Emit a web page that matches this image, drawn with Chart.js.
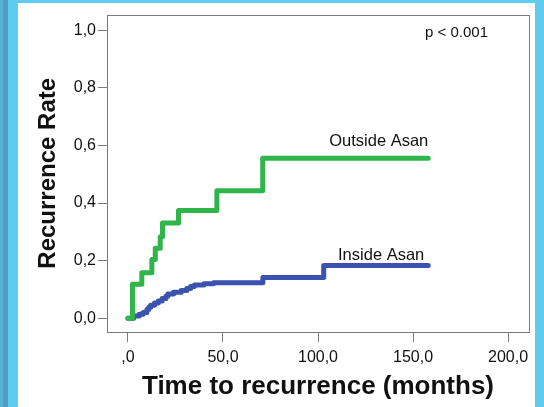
<!DOCTYPE html>
<html>
<head>
<meta charset="utf-8">
<script src="https://cdn.jsdelivr.net/npm/chart.js@4/dist/chart.umd.min.js"></script>
<style>
  html, body { margin: 0; padding: 0; }
  body { width: 544px; height: 407px; background: #5ecbef; position: relative; overflow: hidden; }
  #edge1 { position: absolute; left: 0; top: 0; width: 3px; height: 407px; background: #56b2d6; }
  #edge2 { position: absolute; left: 3px; top: 0; width: 5px; height: 407px; background: #4a9fc3; }
  #panel { position: absolute; left: 18px; top: 3px; width: 517px; height: 404px; background: #fff; }
  canvas { display: block; }
</style>
</head>
<body>
<div id="edge1"></div>
<div id="edge2"></div>
<div id="panel"><canvas id="km" width="517" height="404"></canvas></div>
<script>
// cumulative recurrence (Kaplan-Meier style), months vs rate
var outsideMonths = [0, 2.4, 7.3, 12.6, 14.4, 17, 18.2, 26.6, 46.8, 70.9, 158];
var outsideRate   = [0, 0.118, 0.158, 0.204, 0.243, 0.283, 0.331, 0.374, 0.443, 0.556, 0.556];

var insideMonths = [0, 3, 6, 8, 10, 11, 12, 14, 16, 18, 20, 21, 24, 28, 31, 33, 35, 40, 45, 71, 103, 158];
var insideRate   = [0, 0.008, 0.014, 0.02, 0.03, 0.038, 0.045, 0.053, 0.06, 0.068, 0.076, 0.084, 0.09, 0.096, 0.103, 0.11, 0.115, 0.12, 0.123, 0.141, 0.183, 0.183];

var xTicks  = [0, 50, 100, 150, 200];
var xLabels = [',0', '50,0', '100,0', '150,0', '200,0'];
var yTicks  = [0, 0.2, 0.4, 0.6, 0.8, 1.0];
var yLabels = ['0,0', '0,2', '0,4', '0,6', '0,8', '1,0'];

var groupNames = ['Outside Asan', 'Inside Asan'];
var pText = 'p < 0.001';

function toPoints(xs, ys) {
    return xs.map(function (x, i) { return { x: x, y: ys[i] }; });
}

Chart.defaults.font.family = "'Liberation Sans', Arial, sans-serif";
Chart.defaults.color = '#111';

// box round the plot area, group names at the end of each curve, p value
var extras = {
    id: 'extras',
    beforeDatasetsDraw: function (chart) {
        var a = chart.chartArea, ctx = chart.ctx;
        ctx.save();
        ctx.strokeStyle = '#7a7a7a';
        ctx.lineWidth = 1;
        ctx.strokeRect(Math.round(a.left) + 0.5, Math.round(a.top) + 0.5,
            Math.round(a.right - a.left), Math.round(a.bottom - a.top));
        ctx.restore();
    },
    afterDatasetsDraw: function (chart) {
        var ctx = chart.ctx, xs = chart.scales.x, ys = chart.scales.y;
        var offs = [[0, -12], [-4, -6]];
        ctx.save();
        ctx.fillStyle = '#111';
        ctx.font = "16.5px 'Liberation Sans', Arial, sans-serif";
        ctx.textAlign = 'right';
        ctx.textBaseline = 'alphabetic';
        chart.data.datasets.forEach(function (ds, i) {
            var last = ds.data[ds.data.length - 1];
            ctx.fillText(groupNames[i], xs.getPixelForValue(last.x) + offs[i][0],
                ys.getPixelForValue(last.y) + offs[i][1]);
        });
        ctx.font = "15px 'Liberation Sans', Arial, sans-serif";
        ctx.textAlign = 'left';
        ctx.fillText(pText, 407, 34);
        ctx.restore();
    }
};

new Chart(document.getElementById('km'), {
    type: 'line',
    data: {
        datasets: [
            {
                label: groupNames[0],
                data: toPoints(outsideMonths, outsideRate),
                borderColor: '#2fb54a',
                borderWidth: 5,
                stepped: 'before',
                pointRadius: 0,
                borderCapStyle: 'round',
                borderJoinStyle: 'round',
                fill: false
            },
            {
                label: groupNames[1],
                data: toPoints(insideMonths, insideRate),
                borderColor: '#3b53af',
                borderWidth: 5,
                stepped: 'before',
                pointRadius: 0,
                borderCapStyle: 'round',
                borderJoinStyle: 'round',
                fill: false
            }
        ]
    },
    options: {
        responsive: false,
        animation: false,
        devicePixelRatio: 1,
        layout: { padding: { top: 6, right: 6, left: 0, bottom: 0 } },
        plugins: { legend: { display: false }, tooltip: { enabled: false } },
        scales: {
            x: {
                type: 'linear',
                min: -11,
                max: 211,
                afterBuildTicks: function (s) { s.ticks = xTicks.map(function (v) { return { value: v }; }); },
                afterFit: function (s) { s.height = 75; s.paddingLeft = 0; s.paddingRight = 0; },
                ticks: {
                    font: { size: 16 },
                    color: '#111',
                    padding: 6,
                    maxRotation: 0,
                    callback: function (v, i) { return xLabels[i]; }
                },
                grid: { drawOnChartArea: false, drawTicks: true, tickLength: 10, color: '#7a7a7a' },
                border: { display: false },
                title: {
                    display: true,
                    text: 'Time to recurrence (months)',
                    font: { size: 26, weight: 'bold' },
                    color: '#111',
                    padding: { top: 0, bottom: 5 }
                }
            },
            y: {
                type: 'linear',
                min: -0.048,
                max: 1.055,
                afterBuildTicks: function (s) { s.ticks = yTicks.map(function (v) { return { value: v }; }); },
                afterFit: function (s) { s.width = 89; },
                ticks: {
                    font: { size: 16 },
                    color: '#111',
                    padding: 2,
                    callback: function (v, i) { return yLabels[i]; }
                },
                grid: { drawOnChartArea: false, drawTicks: true, tickLength: 9, color: '#7a7a7a' },
                border: { display: false },
                title: {
                    display: true,
                    text: 'Recurrence Rate',
                    font: { size: 24, weight: 'bold' },
                    color: '#111',
                    padding: { top: 16, bottom: 0 }
                }
            }
        }
    },
    plugins: [extras]
});
</script>
</body>
</html>
